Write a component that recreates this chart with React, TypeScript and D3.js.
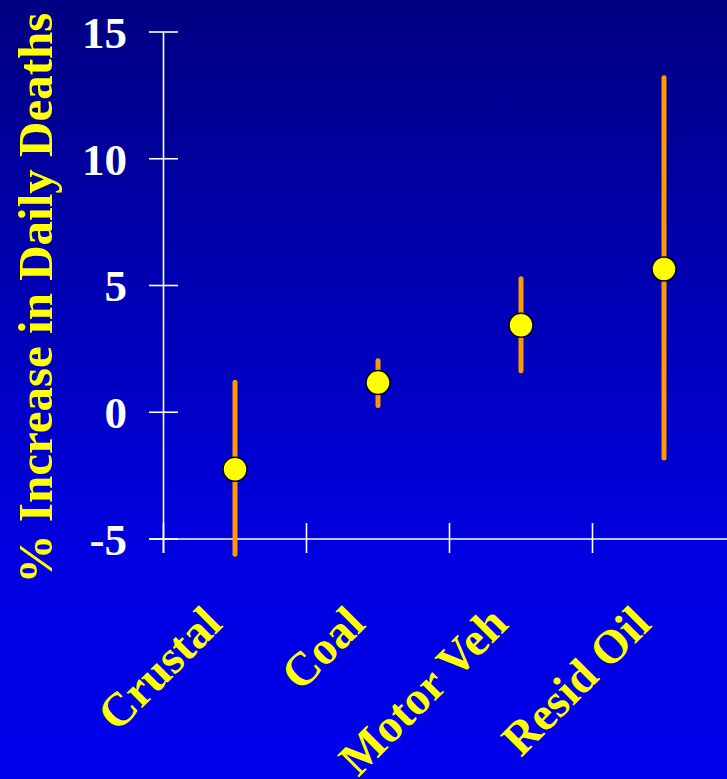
import * as d3 from "d3"

const categories = ["Crustal", "Coal", "Motor Veh", "Resid Oil"]
const estimates = [-2.25, 1.17, 3.43, 5.65]
const lower = [-5.6, 0.27, 1.64, -1.8]
const upper = [1.18, 2.03, 5.27, 13.2]
const yTicks = [15, 10, 5, 0, -5]

const W = 727
const H = 779
const serif = "'Liberation Serif', 'DejaVu Serif', serif"

const App = () => {
  const x = d3.scaleBand().domain(categories).range([163.5, 735.5])
  const y = d3.scaleLinear().domain([-5, 15]).range([539, 32])
  const mid = (c: string) => (x(c) as number) + x.bandwidth() / 2

  return (
    <svg
      width={W}
      height={H}
      style={{ position: "absolute", left: 0, top: 0 }}
    >
      <defs>
        <linearGradient id="bg" x1="0" y1="0" x2="0" y2="1">
          <stop offset="0%" stopColor="#000082" />
          <stop offset="72%" stopColor="#0000E2" />
          <stop offset="100%" stopColor="#0000EC" />
        </linearGradient>
      </defs>
      <rect width={W} height={H} fill="url(#bg)" />

      {/* y axis */}
      <line x1={163.5} x2={163.5} y1={y(15)} y2={553} stroke="#fff" strokeWidth={1.6} />
      {yTicks.map((t) => (
        <g key={t}>
          <line x1={149} x2={178} y1={y(t)} y2={y(t)} stroke="#fff" strokeWidth={1.6} />
          <text
            x={127}
            y={y(t)}
            dy="0.35em"
            textAnchor="end"
            fill="#fff"
            fontFamily={serif}
            fontWeight="bold"
            fontSize={45}
          >
            {t}
          </text>
        </g>
      ))}

      {/* x axis */}
      <line x1={149} x2={W} y1={y(-5)} y2={y(-5)} stroke="#fff" strokeWidth={1.6} />
      {categories.map((c) => (
        <line
          key={c}
          x1={x(c)}
          x2={x(c)}
          y1={523}
          y2={553}
          stroke="#fff"
          strokeWidth={1.6}
        />
      ))}

      {/* error bars and points */}
      {categories.map((c, i) => (
        <g key={c}>
          <line
            x1={mid(c)}
            x2={mid(c)}
            y1={y(upper[i])}
            y2={y(lower[i])}
            stroke="#FF9900"
            strokeWidth={5}
            strokeLinecap="round"
          />
          <circle cx={mid(c)} cy={y(estimates[i])} r={12} fill="#FFFF00" stroke="#000" strokeWidth={1.5} />
        </g>
      ))}

      {/* category labels */}
      {categories.map((c) => (
        <text
          key={c}
          transform={`translate(${mid(c) - 11},626) rotate(-45)`}
          textAnchor="end"
          fill="#FFFF00"
          fontFamily={serif}
          fontWeight="bold"
          fontSize={47}
        >
          {c}
        </text>
      ))}

      {/* y title */}
      <text
        transform="translate(52,298) rotate(-90)"
        textAnchor="middle"
        fill="#FFFF00"
        fontFamily={serif}
        fontWeight="bold"
        fontSize={49}
      >
        % Increase in Daily Deaths
      </text>
    </svg>
  )
}

export default App
